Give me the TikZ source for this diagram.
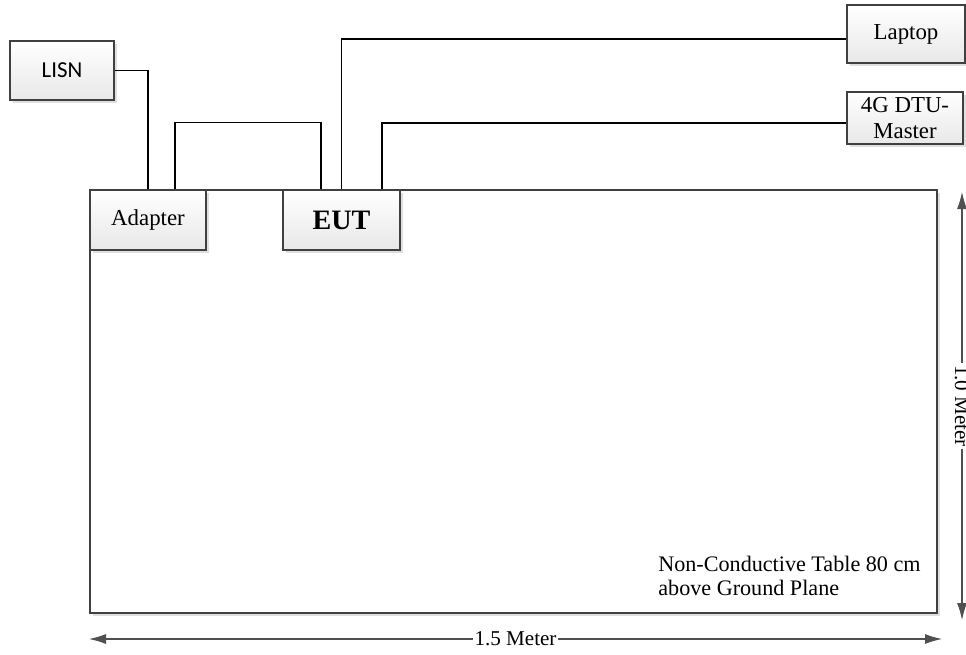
\documentclass[tikz,border=0pt]{standalone}
\usepackage{fontspec}
\setmainfont{Liberation Serif}
\newfontfamily\lisnfont{Carlito}
\usetikzlibrary{arrows.meta, positioning, shadows, calc}
\definecolor{boxline}{RGB}{64, 64, 64}
\definecolor{boxfill}{RGB}{232, 232, 232}
\definecolor{dimgray}{RGB}{80, 80, 80}

\begin{document}
\begin{tikzpicture}[
    devbox/.style={draw=boxline, line width=0.85pt, top color=white, bottom color=boxfill,
      drop shadow={opacity=0.25, shadow xshift=1.5pt, shadow yshift=-1.5pt},
      font=\fontsize{13}{13}\selectfont, align=center, inner sep=2pt},
    wire/.style={black, line width=0.6pt},
    dimline/.style={dimgray, line width=0.6pt, {Latex[length=0.34cm,width=0.2cm]}-{Latex[length=0.34cm,width=0.2cm]}},
    dimlabel/.style={fill=white, text=black, inner sep=1pt, font=\fontsize{12}{12}\selectfont}
  ]

  \useasboundingbox (0,0) rectangle (19.32,-13.08);

  % table
  \filldraw[boxline, fill=white, line width=1.4pt,
    drop shadow={opacity=0.25, shadow xshift=1.5pt, shadow yshift=-1.5pt}]
    (1.8,-3.8) rectangle (18.74,-12.26);
  \node[anchor=base west, align=left, inner sep=0pt, font=\fontsize{12.6}{13.2}\selectfont] (tabletext)
    at (13.16,-11.9) {Non-Conductive Table 80 cm\\above Ground Plane};

  % devices
  \node[devbox, minimum width=2.08cm, minimum height=1.18cm, font=\lisnfont\fontsize{13}{13}\selectfont] (lisn) at (1.24,-1.41) {LISN};
  \node[devbox, minimum width=2.36cm, minimum height=1.16cm] (laptop) at (18.12,-0.68) {Laptop};
  \node[devbox, minimum width=2.32cm, minimum height=1.04cm, font=\fontsize{13}{14.5}\selectfont] (dtu) at (18.1,-2.36) {4G DTU-\\Master};
  \node[devbox, minimum width=2.32cm, minimum height=1.2cm] (adapter) at (2.96,-4.4) {Adapter};
  \node[devbox, minimum width=2.34cm, minimum height=1.2cm, font=\fontsize{16}{16}\selectfont\bfseries] (eut) at (6.83,-4.4) {EUT};

  % cables
  \draw[wire] (lisn.east) -| (adapter.north);
  \draw[wire] ([xshift=0.54cm]adapter.north) -- ++(0,1.34) -| ([xshift=-0.41cm]eut.north);
  \draw[wire] (eut.north) |- ([yshift=-0.1cm]laptop.west);
  \draw[wire] ([xshift=0.81cm]eut.north) |- ([yshift=-0.1cm]dtu.west);

  % dimensions
  \coordinate (vtop) at (19.24,-3.84);
  \coordinate (vbot) at (19.24,-12.4);
  \draw[dimline] (vtop) -- (vbot) node[midway, dimlabel, rotate=-90] (vlabel) {1.0 Meter};
  \coordinate (hleft) at (1.78,-12.78);
  \coordinate (hright) at (18.84,-12.78);
  \draw[dimline] (hleft) -- (hright) node[midway, dimlabel] (hlabel) {1.5 Meter};

\end{tikzpicture}
\end{document}
